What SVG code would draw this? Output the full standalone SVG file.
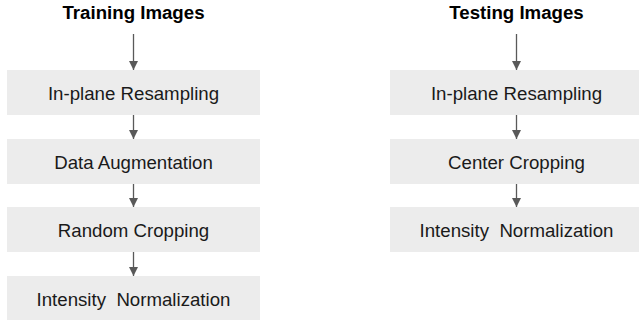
<svg xmlns="http://www.w3.org/2000/svg" width="639" height="320" viewBox="0 0 639 320">
<style>
.box{fill:#ececec;}
.t{font-family:"Liberation Sans",Arial,sans-serif;font-size:18.67px;fill:#1a1a1a;text-anchor:middle;white-space:pre;}
.h{font-weight:bold;fill:#000;}
.c{stroke:#595959;stroke-width:1.3;fill:none;}
</style>
<defs>
<marker id="ah" markerWidth="9" markerHeight="10" refX="9" refY="4.5" orient="auto" markerUnits="userSpaceOnUse">
<path d="M0,0 L9,4.5 L0,9 Z" fill="#595959"/>
</marker>
</defs>
<rect width="639" height="320" fill="#fff"/>
<g id="title-train"><text class="t h" x="133.5" y="19">Training Images</text></g>
<g id="title-test"><text class="t h" x="516.5" y="19">Testing Images</text></g>
<g id="train-resample"><rect class="box" x="7" y="70" width="253" height="45"/><text class="t" x="133.5" y="99.5">In-plane Resampling</text></g>
<g id="train-augment"><rect class="box" x="7" y="139" width="253" height="45"/><text class="t" x="133.5" y="168.5">Data Augmentation</text></g>
<g id="train-crop"><rect class="box" x="7" y="207" width="253" height="45"/><text class="t" x="133.5" y="236.5">Random Cropping</text></g>
<g id="train-norm"><rect class="box" x="7" y="276" width="253" height="45"/><text class="t" x="133.5" y="305.5" xml:space="preserve">Intensity  Normalization</text></g>
<g id="test-resample"><rect class="box" x="390" y="70" width="253" height="45"/><text class="t" x="516.5" y="99.5">In-plane Resampling</text></g>
<g id="test-crop"><rect class="box" x="390" y="139" width="253" height="45"/><text class="t" x="516.5" y="168.5">Center Cropping</text></g>
<g id="test-norm"><rect class="box" x="390" y="207" width="253" height="45"/><text class="t" x="516.5" y="236.5" xml:space="preserve">Intensity  Normalization</text></g>
<g id="connectors">
<line class="c" x1="133.5" y1="34" x2="133.5" y2="70" marker-end="url(#ah)"/>
<line class="c" x1="133.5" y1="115" x2="133.5" y2="139" marker-end="url(#ah)"/>
<line class="c" x1="133.5" y1="184" x2="133.5" y2="207" marker-end="url(#ah)"/>
<line class="c" x1="133.5" y1="252" x2="133.5" y2="276" marker-end="url(#ah)"/>
<line class="c" x1="516.5" y1="34" x2="516.5" y2="70" marker-end="url(#ah)"/>
<line class="c" x1="516.5" y1="115" x2="516.5" y2="139" marker-end="url(#ah)"/>
<line class="c" x1="516.5" y1="184" x2="516.5" y2="207" marker-end="url(#ah)"/>
</g>
</svg>
